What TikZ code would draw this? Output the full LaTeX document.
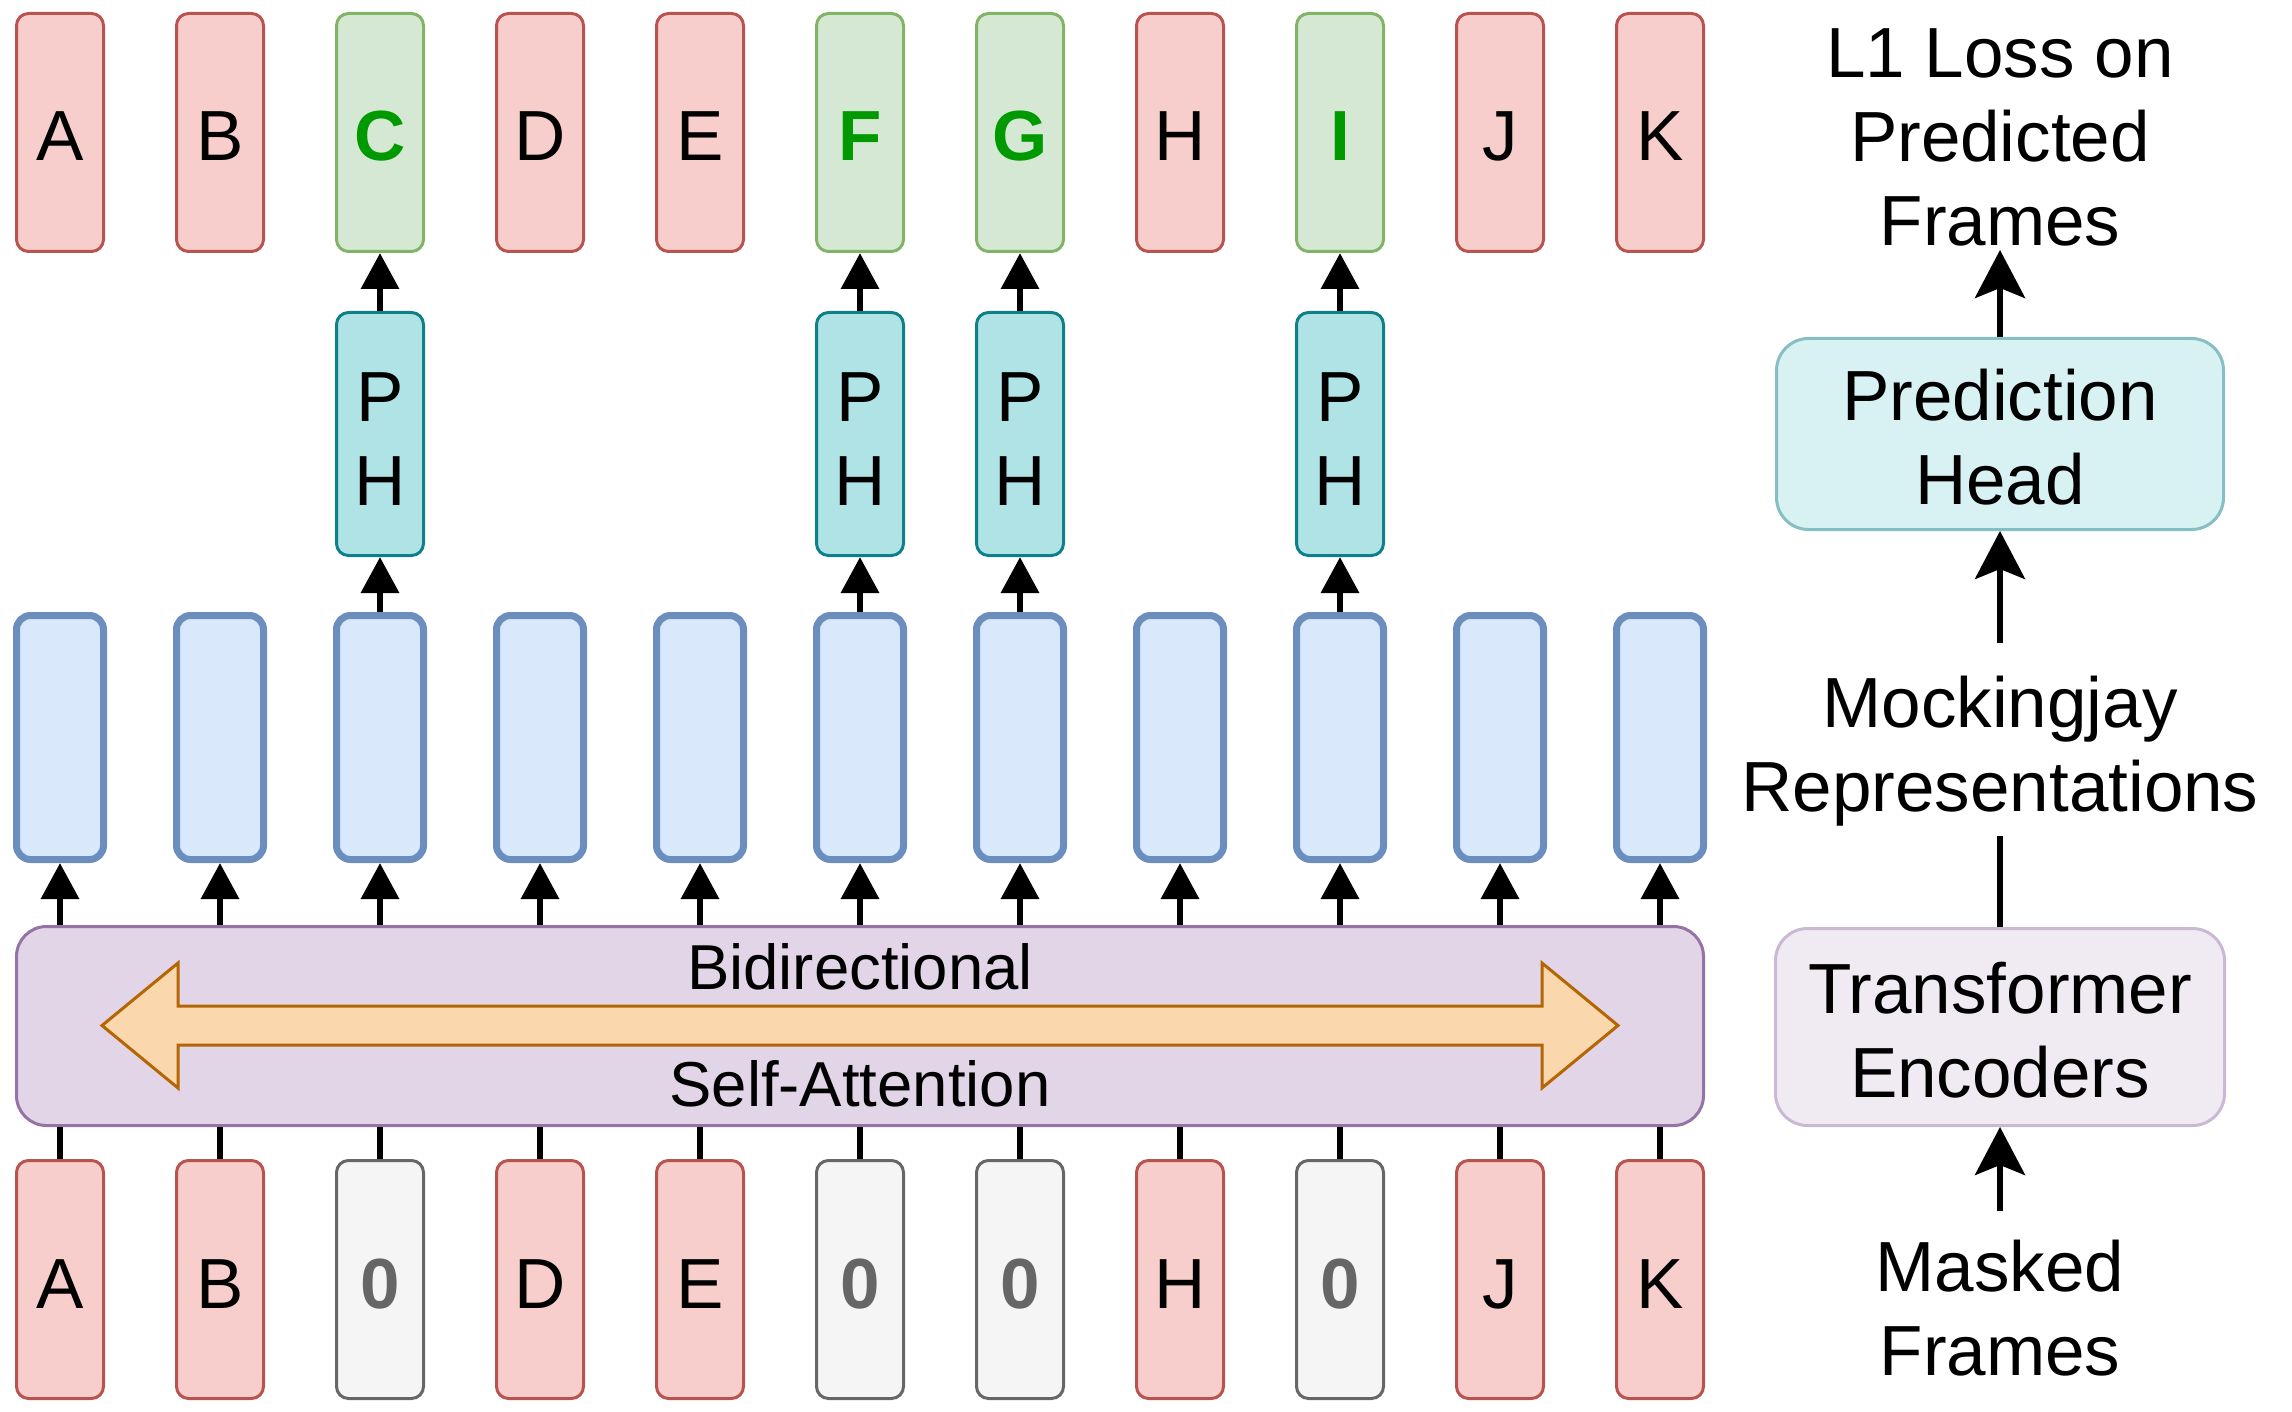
\documentclass[tikz,border=0pt]{standalone}
\usepackage{fontspec}
\setmainfont{Liberation Sans}
\usetikzlibrary{arrows.meta}
\definecolor{redF}{HTML}{F8CECC}
\definecolor{redS}{HTML}{B85450}
\definecolor{grnF}{HTML}{D5E8D4}
\definecolor{grnS}{HTML}{82B366}
\definecolor{grnT}{HTML}{009900}
\definecolor{gryF}{HTML}{F5F5F5}
\definecolor{gryS}{HTML}{666666}
\definecolor{phF}{HTML}{B0E3E6}
\definecolor{phS}{HTML}{0E8088}
\definecolor{bluF}{HTML}{DAE8FC}
\definecolor{bluS}{HTML}{6C8EBF}
\definecolor{purF}{HTML}{E1D5E7}
\definecolor{purS}{HTML}{9673A6}
\definecolor{orgF}{HTML}{FAD7AC}
\definecolor{orgS}{HTML}{B46504}
\definecolor{phlF}{HTML}{D8F1F3}
\definecolor{phlS}{HTML}{86BFC3}
\definecolor{purlF}{HTML}{F0EAF3}
\definecolor{purlS}{HTML}{CAB9D2}
\newcommand{\topstrut}{\rule{0pt}{29pt}}
\tikzset{
  bigfont/.style={font=\fontsize{35.5}{42}\selectfont},
  frame/.style={draw, rounded corners=6pt, line width=1.5pt, minimum width=43.5pt,
    minimum height=119pt, inner sep=0pt, bigfont},
  letterbox/.style={frame, text height=28.5pt, text depth=0pt},
  redbox/.style={letterbox, fill=redF, draw=redS},
  grnbox/.style={letterbox, fill=grnF, draw=grnS, text=grnT, font=\fontsize{35.5}{42}\selectfont\bfseries},
  grybox/.style={letterbox, fill=gryF, draw=gryS, text=gryS, font=\fontsize{35.5}{42}\selectfont\bfseries},
  phbox/.style={frame, fill=phF, draw=phS, minimum height=121.5pt, align=center},
  blubox/.style={draw=bluS, fill=bluF, line width=3.5pt, rounded corners=7pt,
    minimum width=43.5pt, minimum height=122pt, inner sep=0pt},
  busbox/.style={draw=purS, fill=purF, line width=1.5pt, rounded corners=15pt,
    minimum width=843.5pt, minimum height=99.5pt, inner sep=0pt},
  bustext/.style={inner sep=0pt, anchor=base, font=\fontsize{31.75}{38}\selectfont},
  rtext/.style={inner sep=0pt, align=center, bigfont},
  rbox/.style={line width=1.5pt, rounded corners=16pt, inner sep=0pt, align=center, bigfont},
  arr/.style={line width=3.25pt, -{Triangle[width=18.5pt,length=18pt]}},
  ln/.style={line width=3.25pt},
  rarr/.style={line width=3pt, -{Stealth[width=25pt,length=24pt,inset=5pt]}},
  rln/.style={line width=3pt}
}
\begin{document}
\begin{tikzpicture}[x=0.5pt, y=-0.5pt]
\useasboundingbox (0,0) rectangle (2292,1412);

% top row (targets)
\node[redbox] (t0) at (60,132.5) {A};
\node[redbox] (t1) at (220,132.5) {B};
\node[grnbox] (t2) at (380,132.5) {C};
\node[redbox] (t3) at (540,132.5) {D};
\node[redbox] (t4) at (700,132.5) {E};
\node[grnbox] (t5) at (860,132.5) {F};
\node[grnbox] (t6) at (1020,132.5) {G};
\node[redbox] (t7) at (1180,132.5) {H};
\node[grnbox] (t8) at (1340,132.5) {I};
\node[redbox] (t9) at (1500,132.5) {J};
\node[redbox] (t10) at (1660,132.5) {K};

% prediction heads
\node[phbox] (p2) at (380,434) {\topstrut P\\H};
\node[phbox] (p5) at (860,434) {\topstrut P\\H};
\node[phbox] (p6) at (1020,434) {\topstrut P\\H};
\node[phbox] (p8) at (1340,434) {\topstrut P\\H};

% representations
\foreach \i in {0,...,10} {
  \node[blubox] (b\i) at ({60+160*\i},737.5) {};
}

% bus
\node[busbox] (bus) at (860,1026) {};
\draw[draw=orgS, fill=orgF, line width=1.5pt, line join=miter]
  (102,1025.5) -- (178,963) -- (178,1006) -- (1542,1006) -- (1542,963) -- (1618,1025.5)
  -- (1542,1088) -- (1542,1045) -- (178,1045) -- (178,1088) -- cycle;
\node[bustext] (bidi) at (860,989) {Bidirectional};
\node[bustext] (selfatt) at (860,1106) {Self-Attention};

% bottom row (masked input)
\node[redbox] (m0) at (60,1279.5) {A};
\node[redbox] (m1) at (220,1279.5) {B};
\node[grybox] (m2) at (380,1279.5) {0};
\node[redbox] (m3) at (540,1279.5) {D};
\node[redbox] (m4) at (700,1279.5) {E};
\node[grybox] (m5) at (860,1279.5) {0};
\node[grybox] (m6) at (1020,1279.5) {0};
\node[redbox] (m7) at (1180,1279.5) {H};
\node[grybox] (m8) at (1340,1279.5) {0};
\node[redbox] (m9) at (1500,1279.5) {J};
\node[redbox] (m10) at (1660,1279.5) {K};

% connectors
\foreach \i in {0,...,10} {
  \draw[arr] (b\i.south |- bus.north) -- (b\i.south);
  \draw[ln] (m\i.north) -- (m\i.north |- bus.south);
}
\foreach \i in {2,5,6,8} {
  \draw[arr] (b\i.north) -- (p\i.south);
  \draw[arr] (p\i.north) -- (t\i.south);
}

% right column
\node[rtext, anchor=south] (loss) at (2000,247) {L1 Loss on\\Predicted\\Frames};
\node[rbox, draw=phlS, fill=phlF, minimum width=223.5pt, minimum height=95.5pt] (rph) at (2000,434) {\topstrut Prediction\\Head};
\node[rtext, anchor=south] (mock) at (2000,827) {Mockingjay\\Representations};
\node[rbox, draw=purlS, fill=purlF, minimum width=224.5pt, minimum height=98.5pt] (rte) at (2000,1027) {\topstrut Transformer\\Encoders};
\node[rtext, anchor=south] (mask) at (2000,1377) {Masked\\Frames};

\draw[rarr, shorten >=1.5pt] (rph.north) -- (loss.south);
\draw[rarr, shorten <=16.5pt] (mock.north) -- (rph.south);
\draw[rln, shorten <=4.5pt] (mock.south) -- (rte.north);
\draw[rarr, shorten <=14.5pt] (mask.north) -- (rte.south);
\end{tikzpicture}
\end{document}
